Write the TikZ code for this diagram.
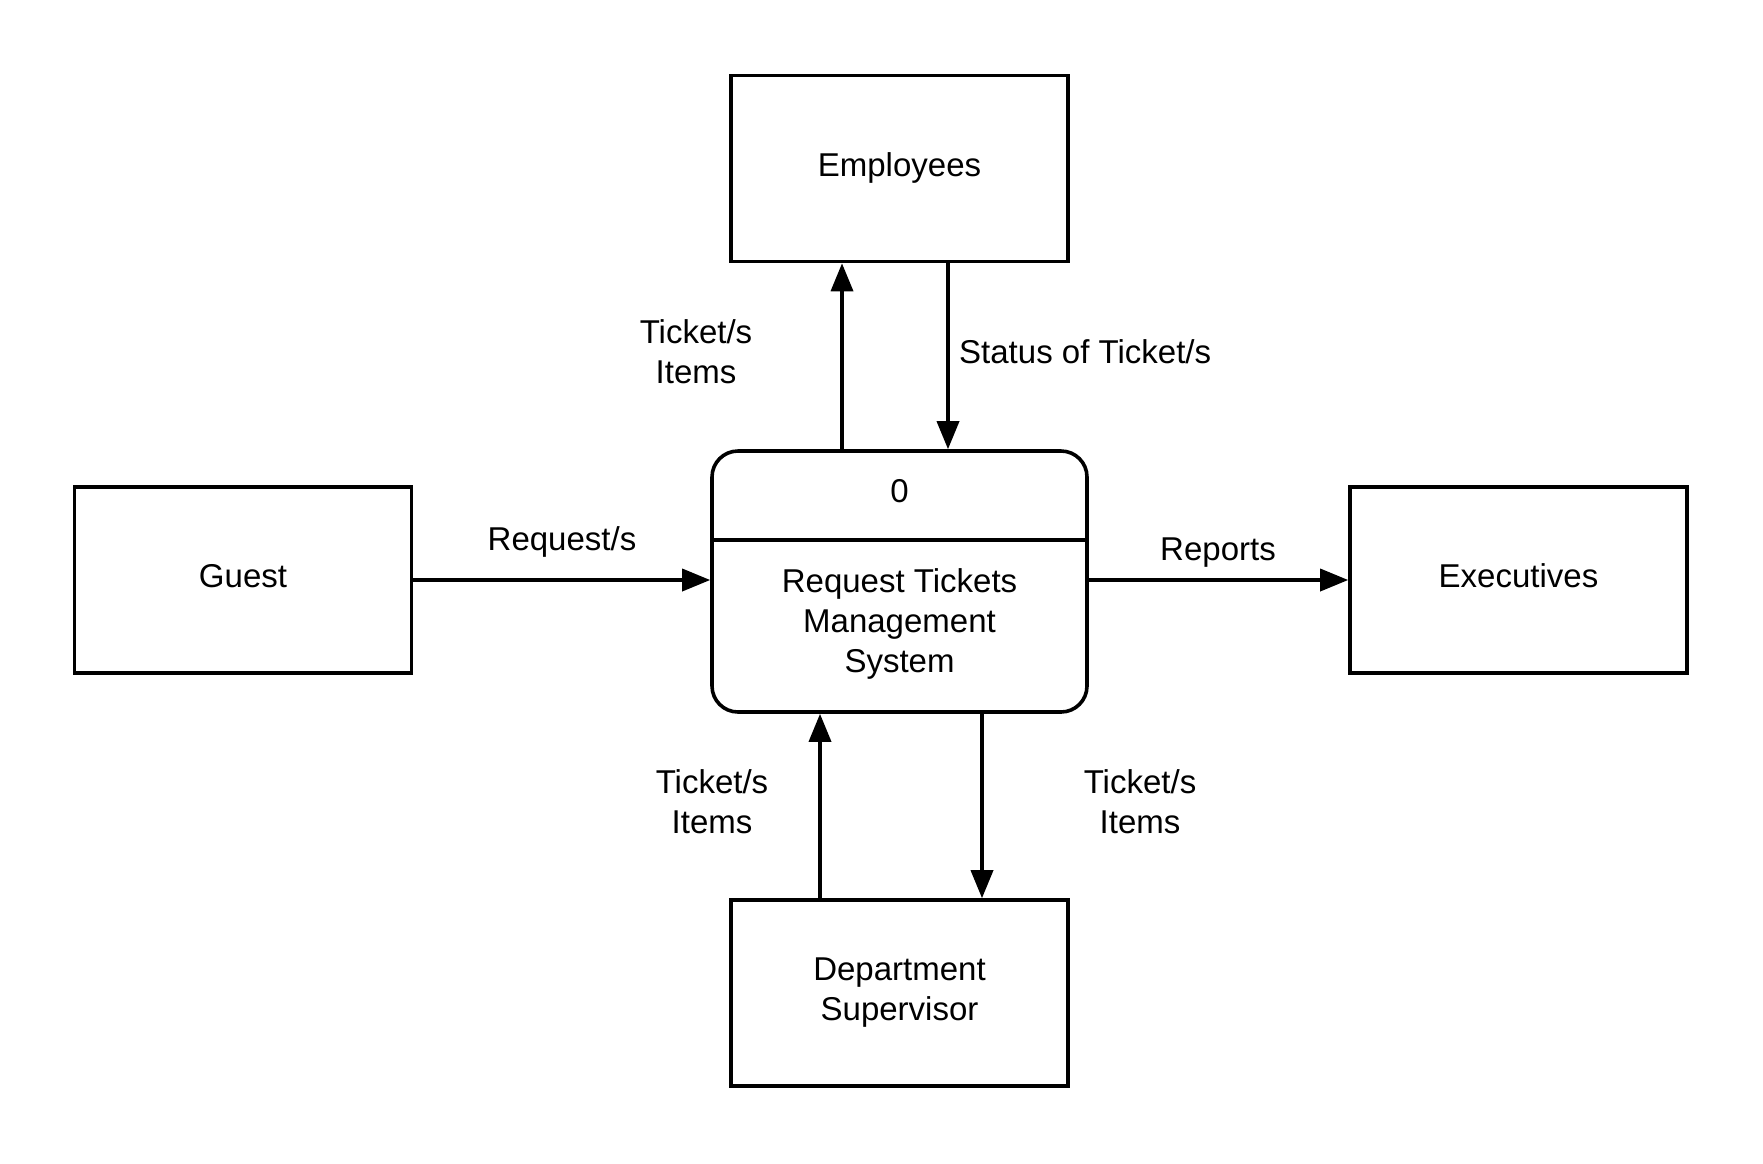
\documentclass[tikz,border=0pt]{standalone}
\usepackage{fontspec}
\setmainfont{Liberation Sans}
\usetikzlibrary{arrows.meta}
\begin{document}
\begin{tikzpicture}[x=1pt,y=-1pt,
  lbl/.style={font=\fontsize{33}{40}\selectfont, align=center, inner sep=0pt},
  entity/.style={draw, line width=3.6pt, rectangle, minimum width=337pt, minimum height=186pt, inner sep=0pt, lbl, text height=24pt, text depth=9pt},
  proc/.style={draw, line width=3.6pt, rectangle, rounded corners=26pt, minimum width=375pt, minimum height=261pt, inner sep=0pt},
  flow/.style={line width=3.6pt, -{Triangle[length=28pt,width=22pt]}}]
\useasboundingbox (0,0) rectangle (1763,1163);
\node[entity] (emp) at (899.5,168.5) {Employees};
\node[entity] (guest) at (243,580) {Guest};
\node[entity] (exec) at (1518.5,580) {Executives};
\node[entity, text height=, text depth=] (dept) at (899.5,993) {Department\\Supervisor};
\node[proc] (p) at (899.5,581.5) {};
\coordinate (dl) at (712,540);
\coordinate (dr) at (1087,540);
\draw[line width=3.6pt] (dl) -- (dr);
\node[lbl] (pnum) at (899.5,491) {0};
\node[lbl] (pname) at (899.5,624) {Request Tickets\\Management\\System};
\draw[flow] ([xshift=-57.5pt]p.north) -- ([xshift=-57.5pt]emp.south);
\draw[flow] ([xshift=48.5pt]emp.south) -- ([xshift=48.5pt]p.north);
\draw[flow] ([xshift=-79.5pt]dept.north) -- ([xshift=-79.5pt]p.south);
\draw[flow] ([xshift=82.5pt]p.south) -- ([xshift=82.5pt]dept.north);
\draw[flow] (guest.east) -- (guest.east -| p.west);
\draw[flow] (exec.west -| p.east) -- (exec.west);
\node[lbl] (l1) at (696,352) {Ticket/s\\Items};
\node[lbl, anchor=west] (l2) at (959,352) {Status of Ticket/s};
\node[lbl] (l3) at (562,542) {Request/s};
\node[lbl] (l4) at (1218,553) {Reports};
\node[lbl] (l5) at (712,802) {Ticket/s\\Items};
\node[lbl] (l6) at (1140,802) {Ticket/s\\Items};
\end{tikzpicture}
\end{document}
